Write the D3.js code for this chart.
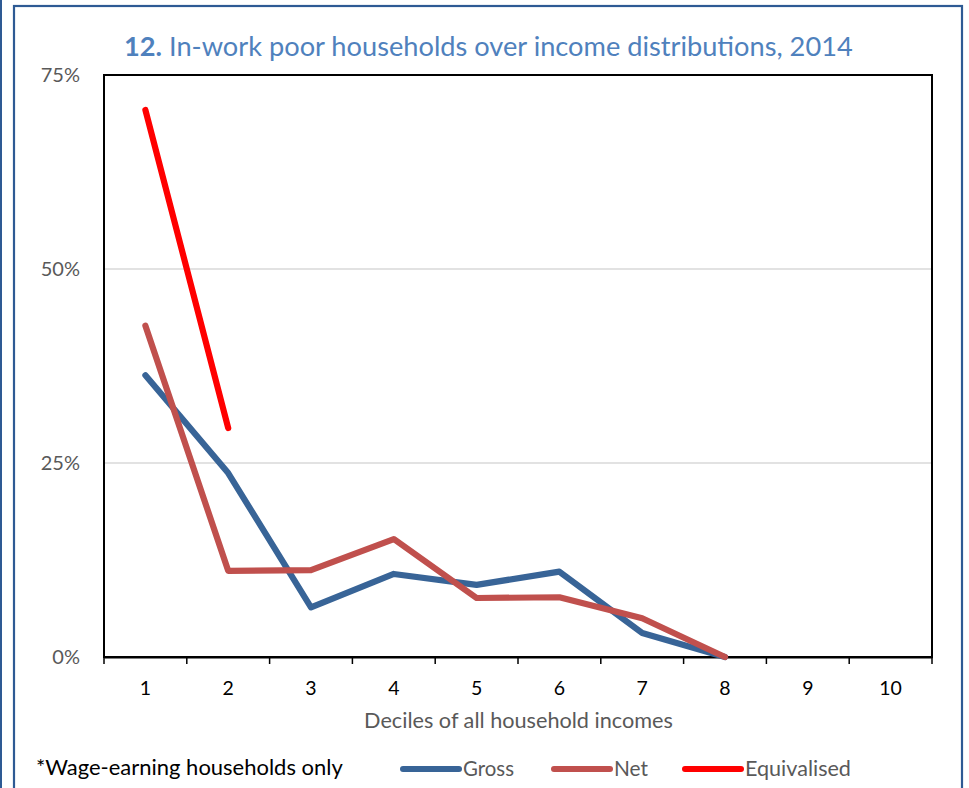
<!DOCTYPE html>
<html><head><meta charset="utf-8">
<script src="https://cdn.jsdelivr.net/npm/d3@7"></script>
<style>body{margin:0;background:#fff}svg{display:block}</style>
</head><body>
<svg id="c" width="969" height="788"></svg>
<script>
const deciles = ["1","2","3","4","5","6","7","8","9","10"];
const gross = [36.3, 23.7, 6.4, 10.7, 9.3, 11.0, 3.1, 0, null, null];
const net = [42.7, 11.1, 11.2, 15.2, 7.6, 7.7, 5.0, 0, null, null];
const equivalised = [70.5, 29.5, null, null, null, null, null, null, null, null];
const yTicks = [0, 25, 50, 75];
const seriesNames = ["Gross", "Net", "Equivalised"];
const seriesColors = ["#386497", "#c0504d", "#ff0000"];

const F = "Lato, 'Open Sans', sans-serif";
const svg = d3.select("#c");
const m = {l:104, r:932, t:75, b:657};

function fit(sel, w) {
  let fs = parseFloat(sel.attr("font-size"));
  const cw = sel.node().getComputedTextLength();
  sel.attr("font-size", fs * w / cw);
}

// outer frame
svg.append("rect").attr("x",14).attr("y",6).attr("width",948).attr("height",800)
  .attr("fill","none").attr("stroke","#2e5a94").attr("stroke-width",2.2);
svg.append("line").attr("x1",1).attr("x2",1).attr("y1",0).attr("y2",788)
  .attr("stroke","#2e5a94").attr("stroke-width",2);

const x = d3.scaleBand().domain(deciles).range([m.l, m.r]);
const y = d3.scaleLinear().domain([0,75]).range([m.b, m.t]);

// gridlines
svg.append("g").selectAll("line").data(yTicks.filter(d=>d>0 && d<75)).join("line")
  .attr("x1",m.l).attr("x2",m.r).attr("y1",d=>y(d)).attr("y2",d=>y(d))
  .attr("stroke","#d9d9d9").attr("stroke-width",1.5);

// frame of plot
svg.append("rect").attr("x",m.l).attr("y",m.t).attr("width",m.r-m.l).attr("height",m.b-m.t)
  .attr("fill","none").attr("stroke","#000").attr("stroke-width",2);

// x axis
const xa = svg.append("g").attr("transform",`translate(0,${m.b})`)
  .call(d3.axisBottom(x).tickSize(0).tickPadding(24));
xa.select(".domain").attr("stroke","#000").attr("stroke-width",2);
xa.selectAll("text").attr("font-family",F).attr("font-size",19.5).attr("fill","#000");
const bounds = deciles.map(d=>x(d)).concat([m.r]);
svg.append("g").selectAll("line").data(bounds).join("line")
  .attr("x1",d=>d).attr("x2",d=>d).attr("y1",m.b).attr("y2",m.b+7)
  .attr("stroke","#000").attr("stroke-width",1.5);

// y axis
const ya = svg.append("g").attr("transform",`translate(${m.l},0)`)
  .call(d3.axisLeft(y).tickValues(yTicks).tickSize(0).tickPadding(24).tickFormat(d=>d+"%"));
ya.select(".domain").remove();
ya.selectAll("text").attr("font-family",F).attr("font-size",20).attr("fill","#595959");

// lines
const line = d3.line().defined(d=>d!=null).x((d,i)=>x(deciles[i])+x.bandwidth()/2).y(d=>y(d));
[gross, net, equivalised].forEach((s,k)=>{
  svg.append("path").datum(s).attr("d",line).attr("fill","none")
    .attr("stroke",seriesColors[k]).attr("stroke-width",6.2)
    .attr("stroke-linejoin","round").attr("stroke-linecap","round");
});

// title
const t = svg.append("text").attr("x",124).attr("y",56).attr("font-family",F)
  .attr("font-size",25).attr("fill","#4f81bd");
t.append("tspan").attr("font-weight","bold").text("12.");
t.append("tspan").text(" In-work poor households over income distributions, 2014");
fit(t, 729);

// axis title
const at = svg.append("text").attr("x",(364+673)/2).attr("y",728).attr("text-anchor","middle")
  .attr("font-family",F).attr("font-size",18).attr("fill","#595959")
  .text("Deciles of all household incomes");
fit(at, 309);

// footnote
const fn = svg.append("text").attr("x",36).attr("y",775).attr("font-family",F)
  .attr("font-size",19).attr("fill","#000").text("*Wage-earning households only");
fit(fn, 307);

// legend
const lx = [400, 551, 682];
const textW = [51, 34, 106];
seriesNames.forEach((n,k)=>{
  svg.append("line").attr("x1",lx[k]+3).attr("x2",lx[k]+59).attr("y1",769).attr("y2",769)
    .attr("stroke",seriesColors[k]).attr("stroke-width",6).attr("stroke-linecap","round");
  const tt = svg.append("text").attr("x",lx[k]+63).attr("y",776).attr("font-family",F)
    .attr("font-size",19).attr("fill","#595959").text(n);
  fit(tt, textW[k]);
});
</script>
</body></html>
